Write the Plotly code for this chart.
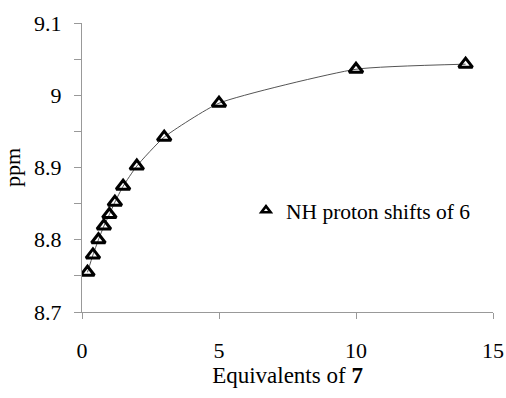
import plotly.graph_objects as go

equivalents = [0.2, 0.4, 0.6, 0.8, 1.0, 1.2, 1.5, 2.0, 3.0, 5.0, 10.0, 14.0]
ppm_shift = [8.755, 8.779, 8.800, 8.819, 8.835, 8.852, 8.874, 8.902, 8.942, 8.989, 9.036, 9.043]
series_name = "NH proton shifts of 6"

x_ticks = [0, 5, 10, 15]
y_ticks = [8.7, 8.8, 8.9, 9.0, 9.1]
y_tick_text = ["8.7", "8.8", "8.9", "9", "9.1"]

FONT = "Liberation Serif"

fig = go.Figure()
fig.add_trace(go.Scatter(
    x=equivalents, y=ppm_shift,
    mode="lines",
    showlegend=False,
    line=dict(color="#555555", width=1, shape="spline", smoothing=0.5),
))
fig.add_trace(go.Scatter(
    x=equivalents, y=ppm_shift,
    mode="markers",
    showlegend=False,
    name=series_name,
    marker=dict(symbol="triangle-up-open", size=12, color="black",
                line=dict(color="black", width=3)),
))
# legend-only entry (smaller key symbol, as in the reference)
fig.add_trace(go.Scatter(
    x=[None], y=[None],
    mode="markers",
    name=series_name,
    marker=dict(symbol="triangle-up-open", size=8, color="black",
                line=dict(color="black", width=2.6)),
))

tick_font = dict(family=FONT, size=22, color="black")
title_font = dict(family=FONT, size=23, color="black")

fig.update_layout(
    template="none",
    width=506, height=398,
    margin=dict(l=82, r=13, t=23, b=86),
    paper_bgcolor="white", plot_bgcolor="white",
    font=tick_font,
    showlegend=True,
    legend=dict(x=0.399, y=0.352, xanchor="left", yanchor="middle",
                bgcolor="rgba(0,0,0,0)", font=dict(family=FONT, size=21.5, color="black")),
    xaxis=dict(
        range=[0, 15], tickvals=x_ticks, ticktext=[str(v) for v in x_ticks],
        automargin=False,
        showgrid=False, zeroline=False, showline=True, linecolor="#999999",
        linewidth=1, ticks="outside", ticklen=6, tickcolor="#999999",
        ticklabelstandoff=13, tickfont=tick_font,
        title=dict(text="Equivalents of <b>7</b>", standoff=1, font=title_font),
    ),
    yaxis=dict(
        range=[8.7, 9.1], tickvals=y_ticks, ticktext=y_tick_text,
        automargin=False,
        showgrid=False, zeroline=False, showline=True, linecolor="#999999",
        linewidth=1, ticks="outside", ticklen=7, tickcolor="#999999",
        ticklabelstandoff=8, tickfont=tick_font,
        minor=dict(dtick=0.05, tick0=8.7, ticks="outside", ticklen=7, tickcolor="#999999"),
        title=dict(text="ppm", standoff=8, font=dict(family=FONT, size=22, color="black")),
    ),
)

fig.write_html("out.html", config={"displayModeBar": False},
               post_script="document.body.style.margin='0';")
